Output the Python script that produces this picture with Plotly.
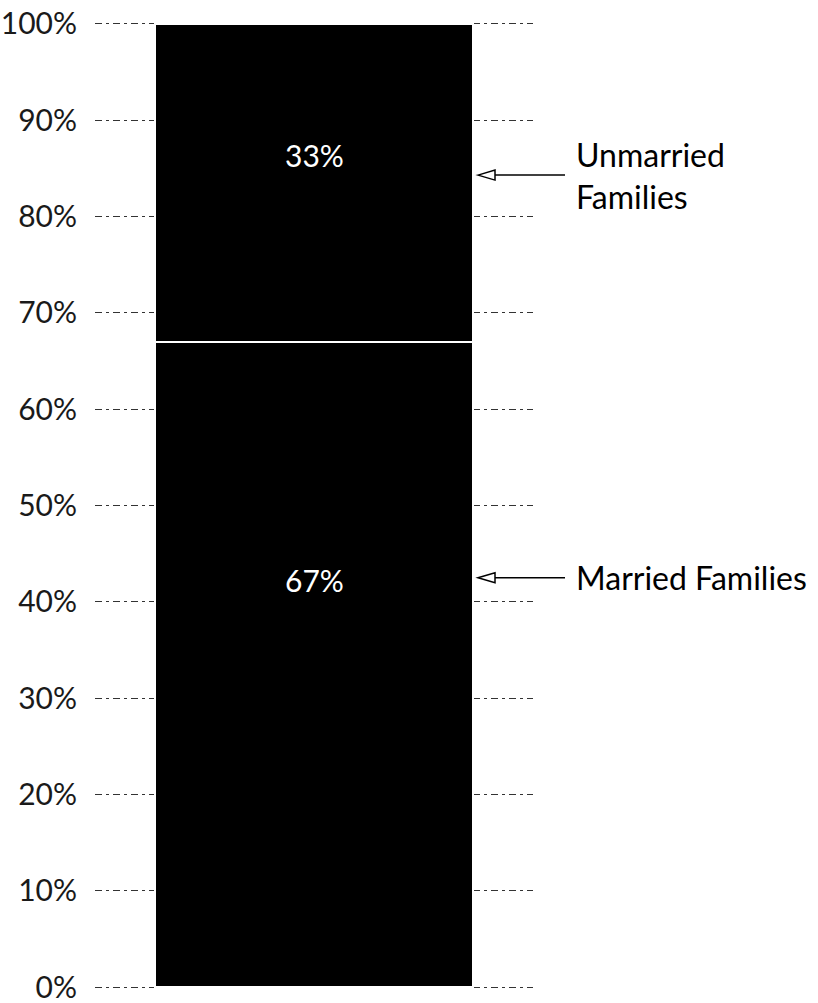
import plotly.graph_objects as go

# Share of families, stacked into a single column
categories = ["Families"]
segments = ["Married Families", "Unmarried Families"]
married = [67]
unmarried = [33]
tick_values = [0, 10, 20, 30, 40, 50, 60, 70, 80, 90, 100]
tick_labels = ["0%", "10%", "20%", "30%", "40%", "50%", "60%", "70%", "80%", "90%", "100%"]

FONT = "Lato, 'Open Sans', sans-serif"
W, H = 818, 1003
LEFT, RIGHT, TOP, BOTTOM = 95, 285, 21, 13
PAD = 0.3  # small headroom so the 0% and 100% grid lines are drawn
plot_w = W - LEFT - RIGHT
px_per_unit = (H - TOP - BOTTOM) / (100 + 2 * PAD)


def px_to_paper(px):
    return (px - LEFT) / plot_w


fig = go.Figure()
for name, vals in ((segments[0], married), (segments[1], unmarried)):
    fig.add_trace(go.Bar(
        x=categories, y=vals, name=name,
        marker=dict(color="black", line=dict(color="white", width=2)),
        width=0.726, showlegend=False, hoverinfo="skip",
    ))

# value labels inside the column
value_label_y = [42.3, 86.4]
for v, yy in zip((married[0], unmarried[0]), value_label_y):
    fig.add_annotation(
        x=categories[0], y=yy, text=f"{v}%", showarrow=False,
        font=dict(family=FONT, size=30, color="white"),
    )

# callouts with open arrowheads on the right
callout_y = [42.5, 84.3]
callout_text = ["Married Families", "Unmarried<br>Families"]
head_px, base_px, tail_px, text_px = 478, 495, 565, 574
half_h = 5 / px_per_unit  # half arrowhead height in axis units
for yy, txt in zip(callout_y, callout_text):
    fig.add_shape(
        type="line", xref="paper", yref="y",
        x0=px_to_paper(base_px), x1=px_to_paper(tail_px), y0=yy, y1=yy,
        line=dict(color="black", width=1.5),
    )
    fig.add_shape(
        type="path", xref="paper", yref="y",
        path=(f"M {px_to_paper(head_px)},{yy} "
              f"L {px_to_paper(base_px)},{yy + half_h} "
              f"L {px_to_paper(base_px)},{yy - half_h} Z"),
        line=dict(color="black", width=1.5), fillcolor="white",
    )
    fig.add_annotation(
        xref="paper", yref="y", x=px_to_paper(text_px), y=yy,
        text=txt, showarrow=False, xanchor="left", yanchor="middle", align="left",
        font=dict(family=FONT, size=32, color="black"),
    )

fig.update_layout(
    width=W, height=H,
    margin=dict(l=LEFT, r=RIGHT, t=TOP, b=BOTTOM),
    barmode="stack",
    plot_bgcolor="white", paper_bgcolor="white",
    xaxis=dict(range=[-0.5, 0.5], showticklabels=False, showgrid=False,
               zeroline=False, showline=False, ticks="", automargin=False),
    yaxis=dict(range=[-PAD, 100 + PAD], tickvals=tick_values, ticktext=tick_labels,
               showgrid=True, gridcolor="#333", gridwidth=1, griddash="7px,4px,3px,4px",
               zeroline=False, showline=False, ticks="", ticklabelstandoff=17,
               automargin=False, ticklabeloverflow="allow",
               tickfont=dict(family=FONT, size=30, color="#1a1a1a")),
)

fig.write_html("out.html")
